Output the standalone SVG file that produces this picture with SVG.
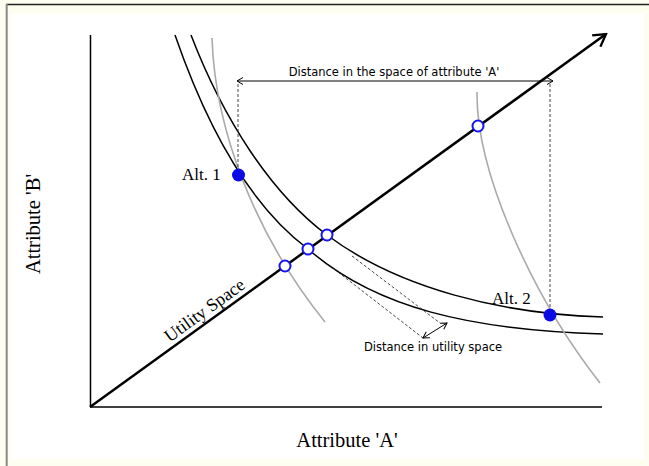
<svg xmlns="http://www.w3.org/2000/svg" width="649" height="466" viewBox="0 0 649 466">
<style>
.serif{font-family:"Liberation Serif","Times New Roman",serif;fill:#000}
.sans{font-family:"DejaVu Sans","Liberation Sans",sans-serif;fill:#000;font-size:11.5px}
.curve{fill:none;stroke:#000;stroke-width:1.5}
.gray{fill:none;stroke:#aaa;stroke-width:1.6}
.dash{fill:none;stroke:#333;stroke-width:0.9;stroke-dasharray:3 2}
.thin{fill:none;stroke:#000;stroke-width:1}
.open{fill:#fff;stroke:#1414f0;stroke-width:2}
.alt{fill:#0a0ae6}
</style>
<defs>
<marker id="big" markerUnits="userSpaceOnUse" viewBox="0 0 16 16" refX="14" refY="8" markerWidth="16" markerHeight="16" orient="auto">
<path d="M2,1 L14,8 L2,15" fill="none" stroke="#000" stroke-width="2.3"/>
</marker>
<marker id="sm" markerUnits="userSpaceOnUse" viewBox="0 0 10 10" refX="9" refY="5" markerWidth="10" markerHeight="10" orient="auto-start-reverse">
<path d="M3,1.5 L9,5 L3,8.5" fill="none" stroke="#000" stroke-width="1"/>
</marker>
</defs>
<rect x="0" y="0" width="649" height="466" fill="#fdfdf0"/>
<rect x="11" y="14" width="633" height="445" fill="#fff"/>
<line x1="6" y1="4.5" x2="649" y2="4.5" stroke="#222" stroke-width="1.5"/>
<line x1="6.7" y1="4" x2="6.7" y2="466" stroke="#888" stroke-width="2"/>

<g id="axes">
<line x1="90.5" y1="35" x2="90.5" y2="407" stroke="#000" stroke-width="1.5"/>
<line x1="90" y1="407" x2="602" y2="407" stroke="#000" stroke-width="1.5"/>
</g>

<g id="curves">
<path id="curve-near" class="curve" d="M175,35 C203,116 244,201 308,249 C375.5,308 470,330 603,334"/>
<path id="curve-far" class="curve" d="M191,35 C223.5,119.6 271,193 327,235 C399,289 503,314 603,317"/>
<path id="gray-left" class="gray" d="M212,38 C215,130 255,235 325,322"/>
<path id="gray-right" class="gray" d="M477,92 C476,175 535,300 600,383"/>
</g>

<g id="connectors">
<line id="utility-axis" x1="90" y1="407" x2="606" y2="34" stroke="#000" stroke-width="2.5" marker-end="url(#big)"/>
<line id="dist-A" class="thin" x1="237" y1="81" x2="553" y2="81" marker-start="url(#sm)" marker-end="url(#sm)"/>
<line class="dash" x1="238" y1="84" x2="238" y2="170"/>
<line class="dash" x1="550" y1="84" x2="550" y2="309"/>
<line class="dash" x1="352" y1="256" x2="440" y2="323"/>
<line class="dash" x1="334" y1="269" x2="423" y2="338"/>
<line id="dist-U" class="thin" x1="423" y1="338" x2="447" y2="323" marker-start="url(#sm)" marker-end="url(#sm)"/>
</g>

<g id="points">
<circle class="open" cx="285" cy="266" r="5.5"/>
<circle class="open" cx="308" cy="249" r="5.5"/>
<circle class="open" cx="327" cy="235" r="5.5"/>
<circle class="open" cx="478" cy="126" r="5.5"/>
</g>

<g id="alt1">
<circle class="alt" cx="238.5" cy="175" r="6.5"/>
<text class="serif" x="182" y="179.5" font-size="17">Alt. 1</text>
</g>
<g id="alt2">
<circle class="alt" cx="550" cy="315" r="6.5"/>
<text class="serif" x="492" y="303.5" font-size="17">Alt. 2</text>
</g>

<g id="labels">
<text class="sans" x="394" y="75.5" text-anchor="middle">Distance in the space of attribute 'A'</text>
<text class="sans" x="433" y="351" text-anchor="middle">Distance in utility space</text>
<text class="serif" x="347" y="447" font-size="20.5" text-anchor="middle">Attribute 'A'</text>
<text class="serif" x="0" y="0" font-size="20.5" text-anchor="middle" transform="translate(40,224) rotate(-90)">Attribute 'B'</text>
<text class="serif" x="0" y="0" font-size="18" text-anchor="middle" transform="translate(208,315) rotate(-35.8)">Utility Space</text>
</g>
</svg>
